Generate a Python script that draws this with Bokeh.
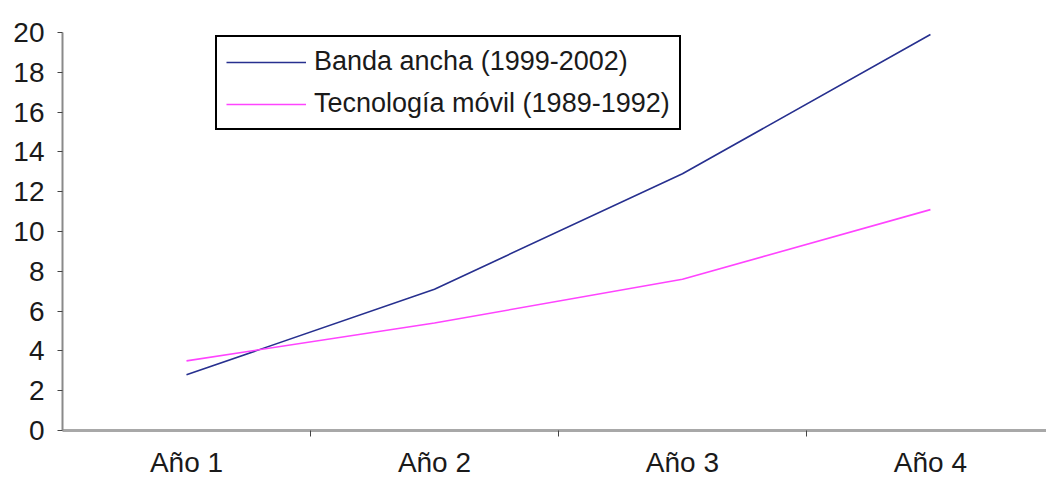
from bokeh.plotting import figure
from bokeh.models import Range1d, FixedTicker, Legend, LegendItem
from bokeh.embed import file_html
from bokeh.resources import INLINE

# Data
years = ["Año 1", "Año 2", "Año 3", "Año 4"]
banda_ancha = [2.8, 7.1, 12.9, 19.9]
tecnologia_movil = [3.5, 5.4, 7.6, 11.1]
y_ticks = [0, 2, 4, 6, 8, 10, 12, 14, 16, 18, 20]

# Category i is centred at i + 0.5; boundaries at the integers
xc = [i + 0.5 for i in range(len(years))]

FONT = "Liberation Sans"

p = figure(
    width=1046, height=480,
    x_range=Range1d(0, 3.968), y_range=Range1d(0, 20),
    output_backend="svg", toolbar_location=None,
    min_border_left=62, min_border_right=0,
    min_border_top=32, min_border_bottom=50,
)
p.outline_line_color = None
p.grid.grid_line_color = None
p.background_fill_color = "white"
p.border_fill_color = "white"

r1 = p.line(xc, banda_ancha, line_color="#27308f", line_width=1.6)
r2 = p.line(xc, tecnologia_movil, line_color="#ff44ff", line_width=1.6)

# Y axis
ya = p.yaxis[0]
ya.ticker = FixedTicker(ticks=y_ticks, minor_ticks=[])
ya.axis_line_color = "#8a8a8a"
ya.axis_line_width = 2
ya.major_tick_line_color = "#444444"
ya.major_tick_out = 5
ya.major_tick_in = 0
ya.minor_tick_line_color = None
ya.major_label_standoff = 13
ya.major_label_text_font = FONT
ya.major_label_text_font_size = "28px"
ya.major_label_text_color = "#1a1a1a"

# X axis: labels at category centres, tick marks at category boundaries
xa = p.xaxis[0]
xa.ticker = FixedTicker(ticks=xc, minor_ticks=[1, 2, 3, 4])
xa.major_label_overrides = {c: y for c, y in zip(xc, years)}
xa.axis_line_color = "#a8a8a8"
xa.axis_line_width = 3
xa.major_tick_line_color = None
xa.major_tick_out = 0
xa.major_tick_in = 0
xa.minor_tick_line_color = "#444444"
xa.minor_tick_out = 6
xa.minor_tick_in = 0
xa.major_label_standoff = 10
xa.major_label_text_font = FONT
xa.major_label_text_font_size = "28px"
xa.major_label_text_color = "#1a1a1a"

legend = Legend(
    items=[
        LegendItem(label="Banda ancha (1999-2002)", renderers=[r1]),
        LegendItem(label="Tecnología móvil (1989-1992)", renderers=[r2]),
    ],
    location=(153, 300),
    border_line_color="black",
    border_line_alpha=1.0,
    border_line_width=2,
    background_fill_color="white",
    background_fill_alpha=1,
    padding=9,
    spacing=11,
    glyph_width=80,
    glyph_height=20,
    label_height=20,
    label_standoff=8,
    label_text_font=FONT,
    label_text_font_size="27px",
    label_text_color="#1a1a1a",
    margin=0,
)
p.add_layout(legend)

open("out.html", "w").write(file_html(p, INLINE))
